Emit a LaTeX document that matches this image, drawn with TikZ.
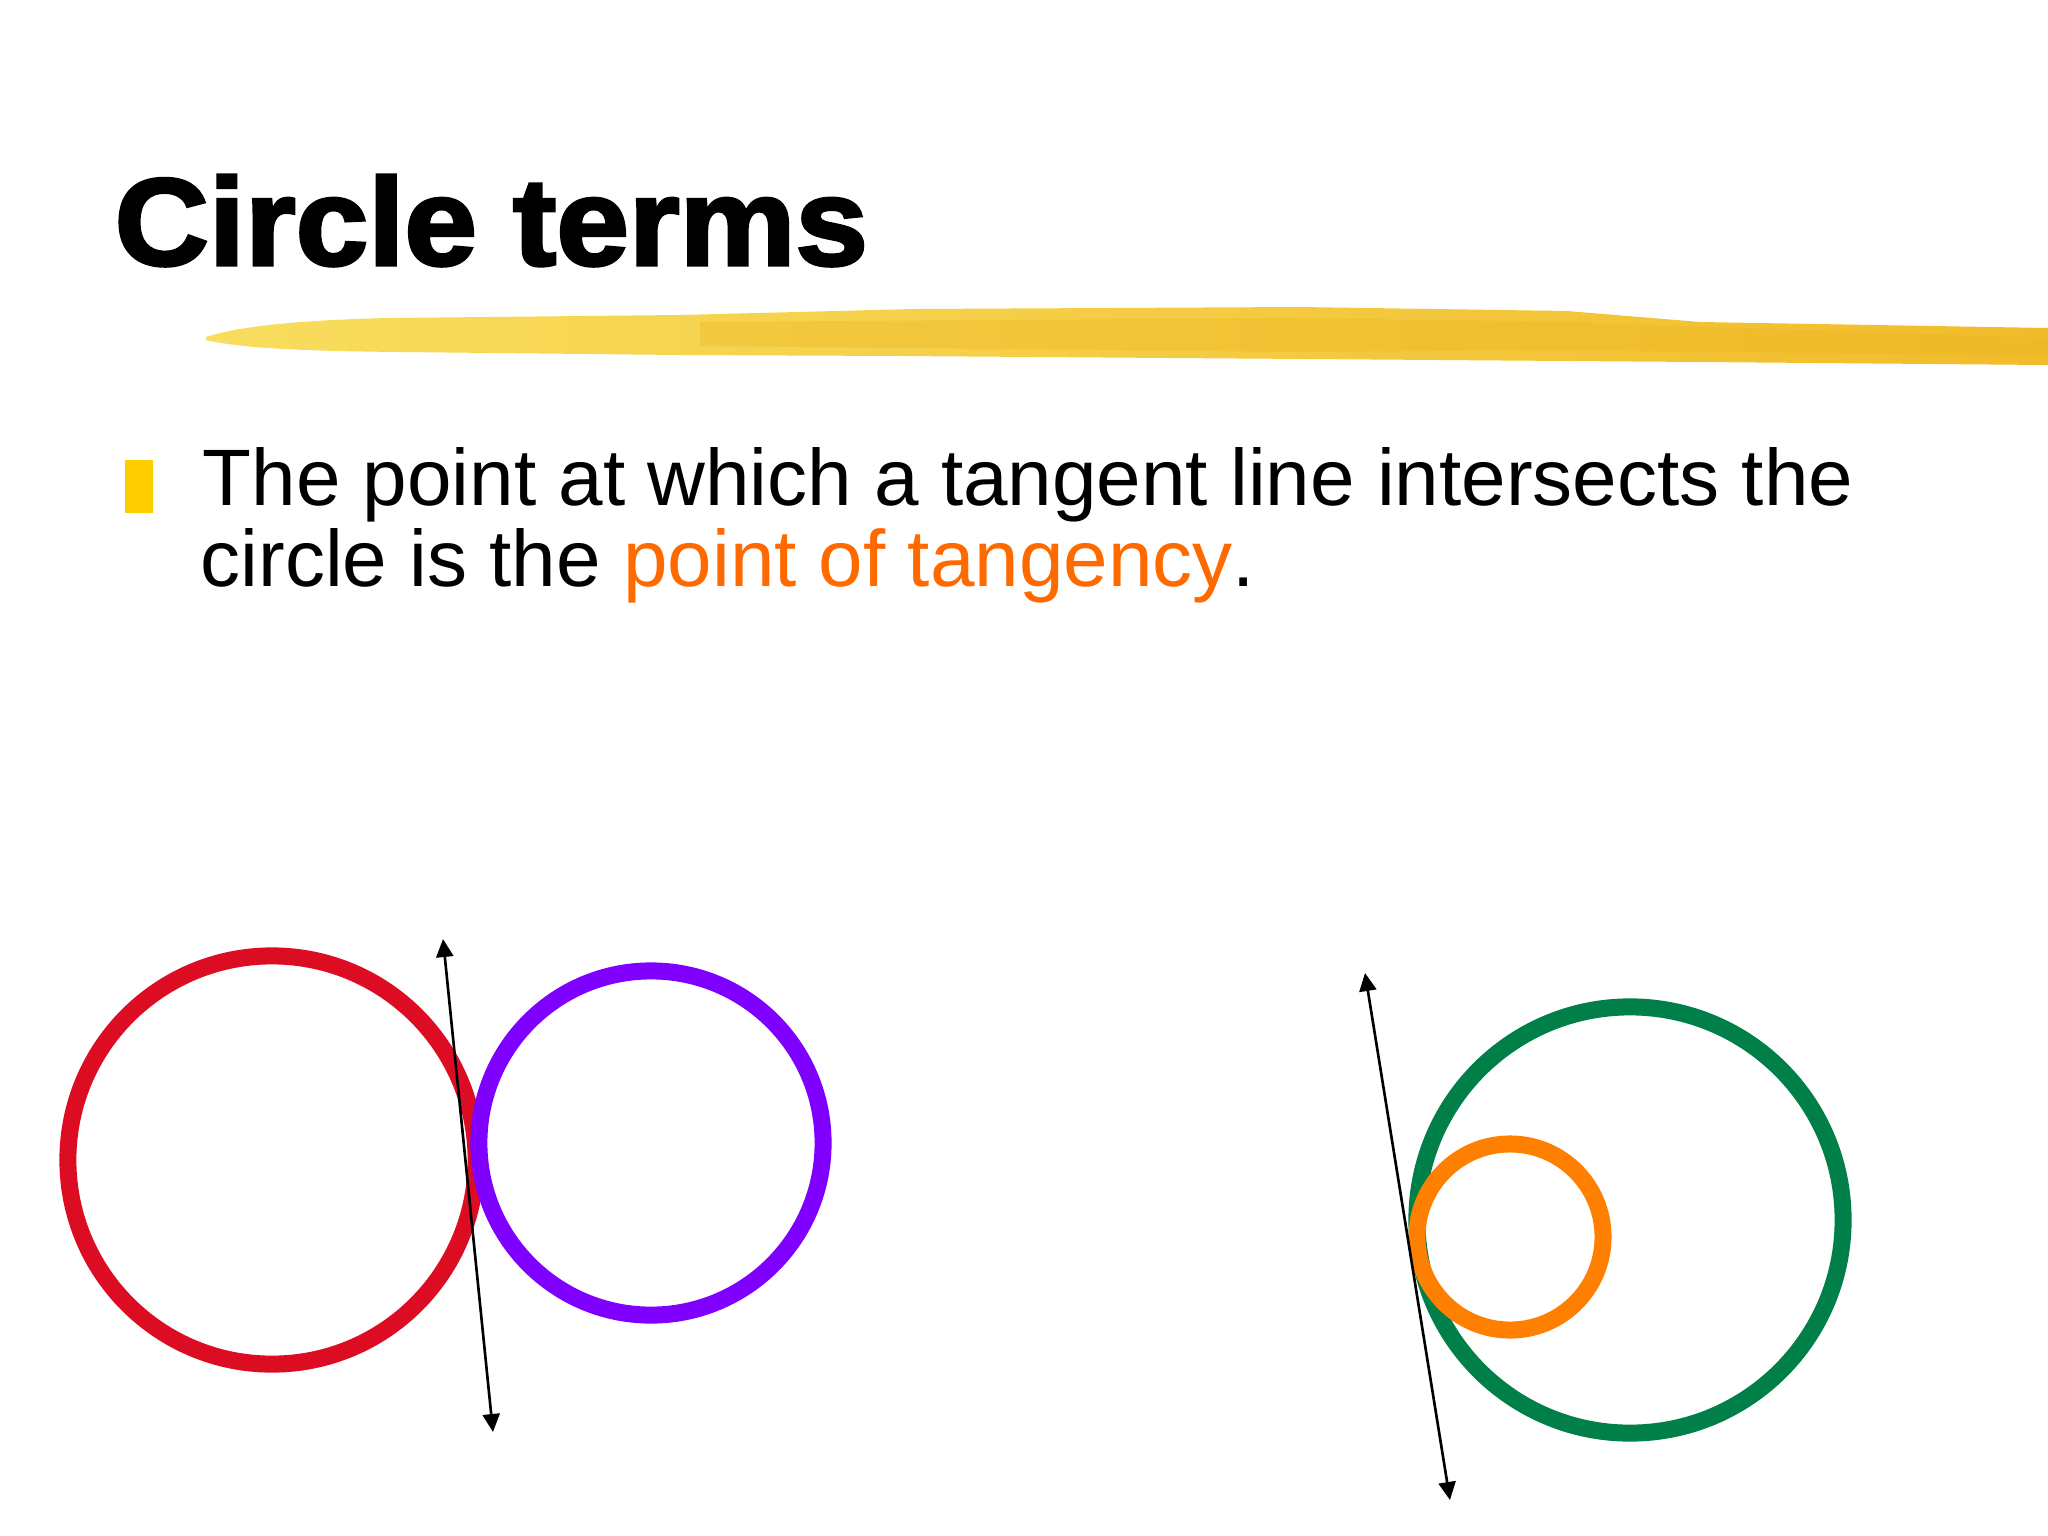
\documentclass[tikz,border=0pt]{standalone}
\usepackage{graphicx}
\usepackage{fontspec}
\setmainfont{Liberation Sans}
\newfontfamily\titlefont[FakeBold=2.5]{Liberation Sans Bold}
\usetikzlibrary{arrows.meta}
\definecolor{brushL}{HTML}{F8DD5E}
\definecolor{brushR}{HTML}{F1BC2A}
\definecolor{brushD}{HTML}{EDB520}
\definecolor{bulletc}{HTML}{FFCC00}
\definecolor{hiorange}{HTML}{FF6A00}
\definecolor{ringred}{HTML}{DC0C22}
\definecolor{ringpurple}{HTML}{8000FF}
\definecolor{ringgreen}{HTML}{008048}
\definecolor{ringorange}{HTML}{FF8000}
\tikzset{
  ring/.style={circle, draw=#1, line width=0.17cm, inner sep=0pt, outer sep=0pt},
  bodytext/.style={anchor=base west, inner sep=0pt, font=\fontsize{22.76pt}{23pt}\selectfont},
  tangentline/.style={line width=0.75pt, {Triangle[length=0.18cm,width=0.17cm]}-{Triangle[length=0.18cm,width=0.17cm]}}
}
\begin{document}
\begin{tikzpicture}[x=0.01cm,y=-0.01cm]
\useasboundingbox[fill=white] (0,0) rectangle (2048,1536);
% title
\node[anchor=base west, inner sep=0pt] (title) at (114,265)
  {\titlefont\fontsize{35.3pt}{40pt}\selectfont\scalebox{1.05}[1]{Circle terms}};
% brush stroke
\shade[left color=brushL, right color=brushR]
  (206,337) .. controls (240,326) and (300,320) .. (390,318)
  -- (680,315) -- (914,309) -- (1300,307) -- (1567,311)
  -- (1700,322) -- (2048,328) -- (2048,365)
  -- (1700,362) -- (1306,359) -- (900,356) -- (680,355)
  -- (400,352) .. controls (300,351) and (240,348) .. (206,340) -- cycle;
\fill[brushD, opacity=0.35] (700,322) -- (1300,318) -- (1560,322) -- (2048,338)
  -- (2048,356) -- (1560,350) -- (1300,352) -- (700,346) -- cycle;
% bullet
\fill[bulletc] (125,460) rectangle (153,513);
% body text
\node[bodytext] (line1) at (202,505) {The point at which a tangent line intersects the};
\node[bodytext] (line2) at (200,586) {circle is the \textcolor{hiorange}{point of tangency}.};
% left pair of circles
\node[ring=ringred, minimum size=4.08cm] (red) at (272,1160) {};
\node[ring=ringpurple, minimum size=3.44cm] (purple) at (651,1143) {};
\coordinate (t1a) at (443,939);
\coordinate (t1b) at (493,1432);
\draw[tangentline] (t1a) -- (t1b);
% right pair of circles
\node[ring=ringgreen, minimum size=4.26cm] (green) at (1630,1220) {};
\node[ring=ringorange, minimum size=1.86cm] (orange) at (1510,1237) {};
\coordinate (t2a) at (1365,973);
\coordinate (t2b) at (1450,1500);
\draw[tangentline] (t2a) -- (t2b);
\end{tikzpicture}
\end{document}
